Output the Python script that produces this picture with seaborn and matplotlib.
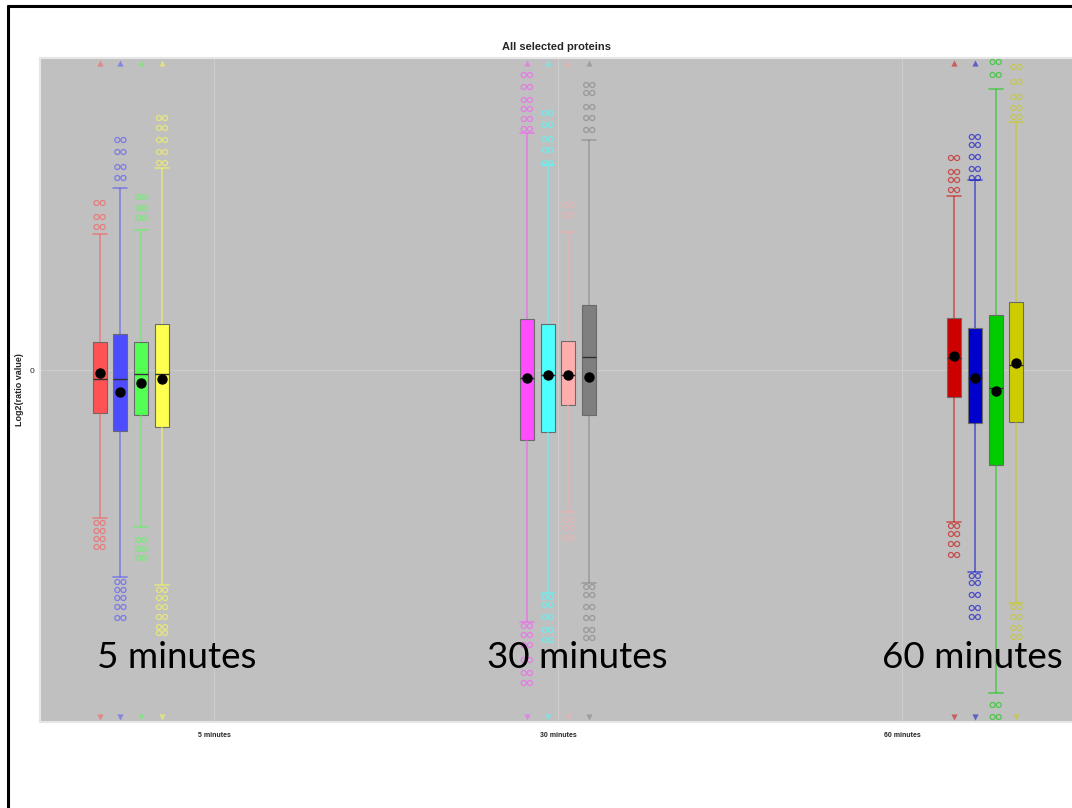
import numpy as np
import pandas as pd
import matplotlib
matplotlib.use("Agg")
import matplotlib.pyplot as plt
from matplotlib.lines import Line2D
import seaborn as sns

# categories (time points) and the 12 protein series, 4 per time point
times = ["5 minutes", "30 minutes", "60 minutes"]
series = ["s%d" % i for i in range(12)]
series_time = [0, 0, 0, 0, 1, 1, 1, 1, 2, 2, 2, 2]

fill_colors = ["#ff5252", "#4d4dff", "#52ff52", "#ffff52",
               "#ff4dff", "#4dffff", "#ffadad", "#7f7f7f",
               "#cc0000", "#0000cc", "#00cc00", "#cccc00"]

# box statistics, log2 ratio
whis_lo = [-3.7, -5.175, -3.925, -5.375, -6.3, -5.575, -3.55, -5.325, -3.8, -5.05, -8.075, -5.825]
q1 = [-1.075, -1.525, -1.125, -1.425, -1.75, -1.55, -0.875, -1.125, -0.675, -1.325, -2.375, -1.3]
median = [-0.225, -0.225, -0.1, -0.1, -0.2, -0.125, -0.125, 0.325, 0.3, -0.2, -0.45, 0.125]
q3 = [0.7, 0.9, 0.7, 1.15, 1.275, 1.15, 0.725, 1.625, 1.3, 1.05, 1.375, 1.7]
whis_hi = [3.4, 4.55, 3.5, 5.05, 5.925, 5.125, 3.45, 5.75, 4.35, 4.75, 7.025, 6.2]
means = [-0.075, -0.55, -0.325, -0.225, -0.2, -0.125, -0.125, -0.175, 0.35, -0.2, -0.525, 0.175]

out_hi = [
    [3.575, 3.825, 4.175],
    [4.8, 5.075, 5.45, 5.75],
    [3.8, 4.05, 4.325],
    [5.175, 5.45, 5.75, 6.05, 6.3],
    [6.025, 6.275, 6.525, 6.75, 7.075, 7.375],
    [5.175, 5.5, 5.775, 6.125, 6.425],
    [3.875, 4.125],
    [6.0, 6.3, 6.575, 6.925, 7.125],
    [4.5, 4.75, 4.95, 5.3],
    [4.8, 5.025, 5.325, 5.625, 5.825],
    [7.375, 7.7],
    [6.325, 6.55, 6.825, 7.2, 7.575],
]
out_lo = [
    [-3.825, -4.025, -4.225, -4.425],
    [-5.3, -5.5, -5.7, -5.925, -6.2],
    [-4.25, -4.475, -4.7],
    [-5.5, -5.7, -5.925, -6.175, -6.425, -6.575],
    [-6.4, -6.625, -6.875, -7.25, -7.575, -7.825],
    [-5.675, -5.875, -6.175, -6.5, -6.75],
    [-3.75, -3.95, -4.2],
    [-5.425, -5.625, -5.925, -6.2, -6.5, -6.7],
    [-3.9, -4.1, -4.35, -4.625],
    [-5.15, -5.325, -5.625, -5.95, -6.175],
    [-8.375, -8.675],
    [-5.925, -6.175, -6.45, -6.675],
]
# values beyond the axis range (drawn as triangles)
far_hi = [True] * 8 + [True, True, False, False]
far_lo = [True] * 8 + [True, True, False, True]

y_min, y_max = -8.8, 7.8

rows = []
for i, s in enumerate(series):
    for v in [whis_lo[i], q1[i], median[i], q3[i], whis_hi[i]]:
        rows.append({"time": times[series_time[i]], "series": s, "value": v})
df = pd.DataFrame(rows)

sns.set_theme(style="white")
plt.rcParams["font.family"] = ["Liberation Sans", "DejaVu Sans"]

fig = plt.figure(figsize=(10.72, 8.08), dpi=100)
ax = fig.add_axes([40 / 1072, 86 / 808, 1034 / 1072, 664 / 808])
ax.set_facecolor("#c0c0c0")

sns.boxplot(data=df, x="time", y="value", hue="series", order=times,
            hue_order=series, palette=fill_colors, saturation=1,
            width=0.726, gap=0.33, whis=np.inf, showfliers=False,
            linewidth=0.8, linecolor="#6a6a6a", legend=False, ax=ax)

for i, c in enumerate(ax.containers):
    col = fill_colors[i]
    for ln in list(c.whiskers) + list(c.caps):
        ln.set_color(col)
        ln.set_alpha(0.55)
        ln.set_linewidth(1.2)
    for ln in c.medians:
        ln.set_color("#303030")
        ln.set_linewidth(1.0)
    verts = c.boxes[0].get_path().vertices
    x0, x1 = verts[:, 0].min(), verts[:, 0].max()
    xc, bw = (x0 + x1) / 2, x1 - x0
    for ln in c.caps:
        ln.set_xdata([x0, x1])
    ys = out_hi[i] + out_lo[i]
    for dx in (-0.22 * bw, 0.22 * bw):
        ax.scatter([xc + dx] * len(ys), ys, s=13, facecolors="none",
                   edgecolors=col, linewidths=0.9, alpha=0.6, zorder=3)
    if far_hi[i]:
        ax.scatter([xc], [y_max - 0.13], marker="^", s=20, color=col,
                   alpha=0.5, linewidths=0, zorder=3)
    if far_lo[i]:
        ax.scatter([xc], [y_min + 0.13], marker="v", s=20, color=col,
                   alpha=0.5, linewidths=0, zorder=3)
    ax.scatter([xc], [means[i]], s=42, color="black", zorder=6)

ax.set_xlim(-0.506, 2.5)
ax.set_ylim(y_min, y_max)
ax.set_yticks([0])
ax.set_yticklabels(["0"], fontsize=6)
ax.set_xticks([0, 1, 2])
ax.set_xticklabels(times, fontsize=5, fontweight="bold")
ax.tick_params(axis="x", length=2, width=0.5, color="#888888", pad=5)
ax.tick_params(axis="y", length=2, width=0.5, color="#888888", pad=2)
ax.grid(True, color="#cdcdcd", linewidth=0.8)
ax.set_axisbelow(True)
ax.set_xlabel("")
ax.set_ylabel("Log2(ratio value)", fontsize=6.5, fontweight="bold", labelpad=4)
ax.set_title("All selected proteins", fontsize=8, fontweight="bold", pad=6)
for sp in ax.spines.values():
    sp.set_color("#e6e6e6")
    sp.set_linewidth(1.5)

# big labels over each time point
label_x = [-0.34, 0.794, 1.942]
for k, t in enumerate(times):
    ax.text(label_x[k], -7.2, t, fontsize=26.5, family=["Lato", "DejaVu Sans"],
            ha="left", va="center", color="black", zorder=7)

# slide frame on left and top
fig.add_artist(Line2D([8 / 1072, 8 / 1072], [0, 1 - 6 / 808], color="black",
                      lw=2.2, transform=fig.transFigure))
fig.add_artist(Line2D([8 / 1072, 1], [1 - 6 / 808, 1 - 6 / 808], color="black",
                      lw=2.2, transform=fig.transFigure))

fig.savefig("out.png", dpi=100)
